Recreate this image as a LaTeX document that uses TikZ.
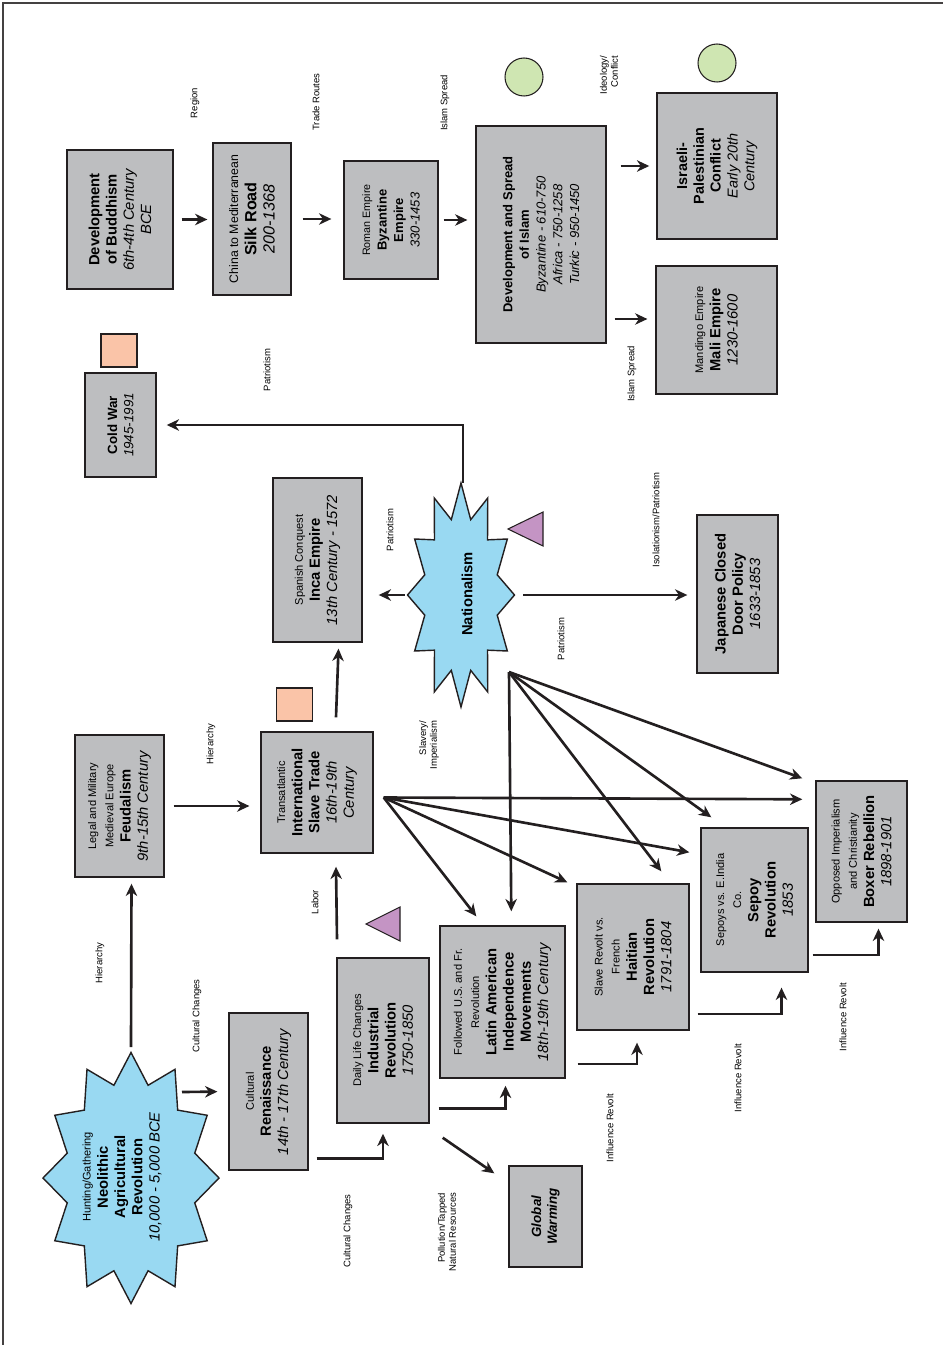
\documentclass[tikz,border=0pt]{standalone}
\usepackage{fontspec}
\setmainfont{Liberation Sans}
\usetikzlibrary{arrows.meta,calc}
\definecolor{boxgray}{RGB}{189,190,192}
\definecolor{skyblue}{RGB}{153,217,242}
\definecolor{leafgreen}{RGB}{207,230,178}
\definecolor{salmon}{RGB}{250,196,168}
\definecolor{mauve}{RGB}{196,148,196}
\definecolor{ink}{RGB}{35,31,32}
\newcommand{\fs}[2]{\fontsize{#1}{#2}\selectfont}
\newcommand{\subline}[1]{{\fs{6.3}{7.4}#1}}
% centre, outer x/y radius, inner x/y radius
\newcommand{\burst}[5]{\draw[burst,shift={(#1)}] plot[samples at={0,15,...,345},variable=\t]
  ({(#4+(#2-#4)*(1-mod(\t,30)/15))*cos(\t)},{(#5+(#3-#5)*(1-mod(\t,30)/15))*sin(\t)}) -- cycle;}
\tikzset{
  box/.style={draw=ink,fill=boxgray,line width=0.8pt,rotate=90,align=center,inner sep=1pt,font=\fs{8.4}{9.8}},
  span/.style 2 args={minimum width=#2*0.02cm,minimum height=#1*0.02cm},
  burst/.style={draw=ink,fill=skyblue,line width=0.8pt,line join=miter},
  bursttext/.style={rotate=90,align=center,inner sep=0pt,font=\fs{8.4}{9.8}},
  lbl/.style={rotate=90,align=center,inner sep=0pt,font=\fs{5.4}{6.2}},
  arr/.style={draw=ink,line width=1.5pt,-{Stealth[length=7pt,width=6.5pt,inset=2.2pt]}},
  disc/.style={circle,draw=ink,fill=leafgreen,line width=0.6pt,minimum size=0.76cm,inner sep=0pt},
  tile/.style={draw=ink,fill=salmon,line width=0.6pt,minimum width=0.72cm,minimum height=0.66cm,inner sep=0pt},
  wedge/.style={draw=ink,fill=mauve,line width=0.6pt},
  frame/.style={draw=ink!85,line width=0.6pt}
}
\begin{document}
\begin{tikzpicture}[x=0.02cm,y=-0.02cm]
\useasboundingbox (0,0) rectangle (943,1345);
\draw[frame] (3,1345) -- (3,3) -- (943,3);

% the two bursts
\coordinate (natc) at (461,595);
\coordinate (neoc) at (131,1178);
\burst{natc}{53.5}{112}{37.5}{78}
\burst{neoc}{88}{125.5}{66}{96}
\node[bursttext] (nat) at (467,594) {\textbf{Nationalism}};
\node[bursttext] (neo) at (122,1177) {\subline{Hunting/Gathering}\\\textbf{Neolithic}\\\textbf{Agricultural}\\\textbf{Revolution}\\\textit{10,000 - 5,000 BCE}};

% boxes, top row
\node[box,span={106}{139}] (buddha) at (120,219.5) {\textbf{Development}\\\textbf{of Buddhism}\\\textit{6th-4th Century}\\\textit{BCE}};
\node[box,span={78}{152},font=\fs{9.2}{10.4}] (silk) at (252,219) {{\fs{7}{8}China to Mediterranean}\\\textbf{Silk Road}\\\textit{200-1368}};
\node[box,span={94}{118},font=\fs{7.4}{9.4}] (byz) at (391,220) {{\fs{6.1}{7}Roman Empire}\\\textbf{Byzantine}\\\textbf{Empire}\\\textit{330-1453}};
\node[box,span={130}{217},font=\fs{7.4}{9.5}] (islam) at (541,234.5) {\textbf{Development and Spread}\\\textbf{of Islam}\\\textit{Byzantine - 610-750}\\\textit{Africa - 750-1258}\\\textit{Turkic - 950-1450}};
\node[box,span={120}{146},font=\fs{8.2}{9.6}] (israeli) at (717,166) {\textbf{Israeli-}\\\textbf{Palestinian}\\\textbf{Conflict}\\\textit{Early 20th}\\\textit{Century}};
\node[box,span={121}{128}] (mali) at (716.5,330) {\subline{Mandingo Empire}\\\textbf{Mali Empire}\\\textit{1230-1600}};

% boxes, middle
\node[box,span={71}{104},font=\fs{7.6}{9.2}] (cold) at (120.5,425) {\textbf{Cold War}\\\textit{1945-1991}};
\node[box,span={89}{164}] (inca) at (317.5,560) {\subline{Spanish Conquest}\\\textbf{Inca Empire}\\\textit{13th Century - 1572}};
\node[box,span={81}{158}] (japan) at (737.5,594) {\textbf{Japanese Closed}\\\textbf{Door Policy}\\\textit{1633-1853}};
\node[box,span={89}{142}] (feudal) at (119.5,806) {\subline{Legal and Military}\\\subline{Medieval Europe}\\\textbf{Feudalism}\\\textit{9th-15th Century}};
\node[box,span={112}{121}] (slave) at (317,792.5) {\subline{Transatlantic}\\\textbf{International}\\\textbf{Slave Trade}\\\textit{16th-19th}\\\textit{Century}};

% boxes, revolutions
\node[box,span={91}{141}] (boxer) at (861.5,851.5) {\subline{Opposed Imperialism}\\\subline{and Christianity}\\\textbf{Boxer Rebellion}\\\textit{1898-1901}};
\node[box,span={107}{144}] (sepoy) at (754.5,900) {\subline{Sepoys vs. E.India}\\\subline{Co.}\\\textbf{Sepoy}\\\textbf{Revolution}\\\textit{1853}};
\node[box,span={112}{146}] (haiti) at (633,957) {\subline{Slave Revolt vs.}\\\subline{French}\\\textbf{Haitian}\\\textbf{Revolution}\\\textit{1791-1804}};
\node[box,span={125}{152}] (latin) at (502.5,1002) {\subline{Followed U.S. and Fr.}\\\subline{Revolution}\\\textbf{Latin American}\\\textbf{Independence}\\\textbf{Movements}\\\textit{18th-19th Century}};
\node[box,span={92}{165}] (ind) at (383,1040.5) {\subline{Daily Life Changes}\\\textbf{Industrial}\\\textbf{Revolution}\\\textit{1750-1850}};
\node[box,span={79}{157}] (ren) at (268.5,1091.5) {\subline{Cultural}\\\textbf{Renaissance}\\\textit{14th - 17th Century}};
\node[box,span={73}{101},font=\fs{7.6}{9}] (glob) at (545.5,1216.5) {\textbf{\textit{Global}}\\\textbf{\textit{Warming}}};

% markers
\node[disc] (discA) at (524,77) {};
\node[disc] (discB) at (717,63) {};
\node[tile] (tileA) at (119,350.5) {};
\node[tile] (tileB) at (294.5,704.5) {};
\draw[wedge] (508,529) -- (543,512) -- (543,546) -- cycle;
\draw[wedge] (366,924) -- (400,907) -- (400,941) -- cycle;

% link labels
\node[lbl] (lRegion) at (195,103) {Region};
\node[lbl] (lTrade) at (316,102) {Trade Routes};
\node[lbl] (lIslamA) at (445,103) {Islam Spread};
\node[lbl,align=right] (lIdeo) at (609,75) {Ideology/\\Conflict};
\node[lbl] (lIslamB) at (632,374) {Islam Spread};
\node[lbl] (lPatA) at (267,370) {Patriotism};
\node[lbl] (lPatB) at (390,530) {Patriotism};
\node[lbl] (lIso) at (656,520) {Isolationism/Patriotism};
\node[lbl] (lPatC) at (561,639) {Patriotism};
\node[lbl] (lHierA) at (211,744) {Hierarchy};
\node[lbl,align=right] (lSlav) at (429,745) {Slavery/\\Imperialism};
\node[lbl] (lLabor) at (315,902) {Labor};
\node[lbl] (lHierB) at (100,963) {Hierarchy};
\node[lbl] (lCultA) at (197,1016) {Cultural Changes};
\node[lbl] (lCultB) at (348,1231) {Cultural Changes};
\node[lbl,align=right] (lPoll) at (447,1232) {Pollution/Tapped\\Natural Resources};
\node[lbl] (lInfA) at (610,1128) {Influence Revolt};
\node[lbl] (lInfB) at (738,1078) {Influence Revolt};
\node[lbl] (lInfC) at (843,1017) {Influence Revolt};

% top chain
\draw[arr,shorten <=4.5pt,shorten >=2.8pt] (buddha.south) -- (buddha.south -| silk.north);
\draw[arr,shorten <=6.2pt,shorten >=6.8pt] (silk.south) -- (silk.south -| byz.north);
\draw[arr,shorten <=2.8pt,shorten >=4.5pt] (byz.south) -- (byz.south -| islam.north);
\draw[arr,shorten <=7.9pt,shorten >=4pt] (israeli.north -| islam.south) -- (israeli.north);
\draw[arr,shorten <=4.5pt,shorten >=4.5pt] ($(islam.south |- mali.north)+(0,-11)$) -- ($(mali.north)+(0,-11)$);

% out of nationalism
\draw[arr,shorten >=5.7pt] ($(natc)+(2,-112)$) |- (cold.south);
\draw[arr,shorten <=31.9pt,shorten >=9.1pt] (natc) -- (natc -| inca.south);
\draw[arr,shorten <=35.3pt,shorten >=5.1pt] (natc) -- (natc -| japan.north);
\coordinate (natfan) at ($(natc)+(48,77)$);
\coordinate (slfan) at ($(slave.south)+(10,5)$);
\foreach \n/\o in {boxer/{-13,-2},sepoy/{11,-10},haiti/{85,-12},latin/{72,-14}}
  \draw[arr] (natfan) -- ($(\n.north east)+(\o)$);
\foreach \n/\o in {boxer/{-13,19},sepoy/{-11,25},haiti/{-9,-1},latin/{37,-9}}
  \draw[arr] (slfan) -- ($(\n.north east)+(\o)$);

% left side
\draw[arr,shorten <=5.1pt,shorten >=6.2pt] (feudal.south) -- (feudal.south -| slave.north);
\draw[arr] ($(slave.east)+(19,-14)$) -- ($(inca.west)+(21,6)$);
\draw[arr] ($(neoc)+(0,-131)$) -- ($(feudal.west)+(12,6)$);
\draw[arr,shorten >=6.2pt] ($(neoc)+(51,-86)$) -- (ren.north);
\draw[arr,shorten >=5.7pt] ($(ren.south)+(8,67)$) -| (ind.west);
\draw[arr,shorten >=4pt] ($(ind.south)+(9,68)$) -| ($(latin.west)+(3,0)$);
\draw[arr] ($(ind.south west)+(13,14)$) -- ($(glob.north east)+(-14,8)$);
\draw[arr] ($(ind.east)+(-46,-18)$) -- ($(slave.west)+(19,13)$);

% revolt chain
\draw[arr,shorten >=6.8pt] ($(latin.south)+(12,62)$) -| ($(haiti.west)+(4,0)$);
\draw[arr,shorten >=8.5pt] ($(haiti.south)+(8,57)$) -| ($(sepoy.west)+(27,0)$);
\draw[arr,shorten >=3.4pt] ($(sepoy.south)+(4,55)$) -| ($(boxer.west)+(17,0)$);
\end{tikzpicture}
\end{document}
